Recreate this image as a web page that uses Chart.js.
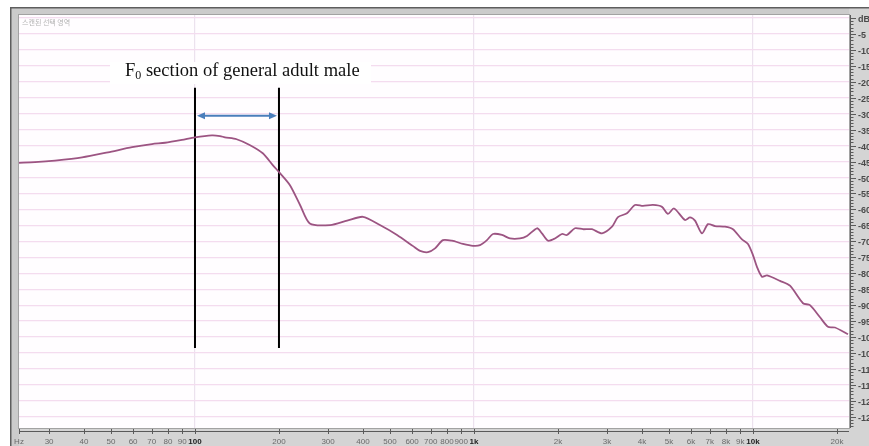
<!DOCTYPE html>
<html>
<head>
<meta charset="utf-8">
<script src="https://cdn.jsdelivr.net/npm/chart.js@4.4.1/dist/chart.umd.min.js"></script>
<style>
  html, body { margin: 0; padding: 0; background: #fff; overflow: hidden; }
  canvas { display: block; }
</style>
</head>
<body>
<canvas id="spectrum" width="869" height="446"></canvas>
<script>
// Frequency analysis of the selected region: level (dB) against frequency (Hz, log axis)
const freqHz = [
  23.4, 26.7, 31.5, 39.4, 48.8, 59.5, 70.1, 78.1, 89.8, 100,
  115, 123, 128, 141, 157, 175, 190, 202, 219, 238,
  258, 305, 351, 400, 460, 530, 605, 641, 684, 725,
  774, 834, 913, 992, 1051, 1113, 1170, 1260, 1346, 1462,
  1549, 1682, 1753, 1842, 1951, 2067, 2154, 2301, 2459, 2648,
  2876, 3124, 3282, 3535, 3776, 4034, 4381, 4719, 4958, 5212,
  5705, 5947, 6197, 6565, 6899, 7309, 7937, 8477, 9133, 9597,
  10000, 10335, 10772, 11228, 12502, 13572, 15111, 16006, 17390, 18571,
  19675, 21906
];
const levelDb = [
  -45.4, -45.2, -44.7, -43.7, -42.1, -40.5, -39.5, -39.1, -38.2, -37.4,
  -36.8, -37.0, -37.4, -38.0, -39.8, -42.4, -46.1, -48.7, -52.4, -58.6,
  -64.4, -64.9, -63.5, -62.3, -64.9, -68.0, -71.5, -73.0, -73.4, -72.2,
  -69.6, -69.8, -70.8, -71.4, -71.2, -69.6, -67.7, -68.0, -69.1, -69.1,
  -68.3, -65.9, -67.5, -69.8, -69.1, -67.7, -68.0, -65.9, -66.2, -66.2,
  -67.5, -65.4, -62.4, -61.2, -58.6, -58.9, -58.6, -59.2, -61.4, -59.7,
  -63.3, -62.5, -63.5, -67.5, -64.6, -65.2, -65.4, -66.2, -69.4, -70.8,
  -74.3, -78.0, -81.1, -80.7, -82.4, -83.9, -89.4, -90.0, -93.8, -96.8,
  -97.0, -99.1
];

// Axis ranges and tick labels
const freqRange = [23.4, 22090];
const dbRange = [-128.5, 0.94];
const xTickHz = [23.4, 30, 40, 50, 60, 70, 80, 90, 100, 200, 300, 400, 500, 600, 700, 800, 900,
                 1000, 2000, 3000, 4000, 5000, 6000, 7000, 8000, 9000, 10000, 20000];
const xTickText = ['Hz', '30', '40', '50', '60', '70', '80', '90', '100', '200', '300', '400', '500',
                   '600', '700', '800', '900', '1k', '2k', '3k', '4k', '5k', '6k', '7k', '8k', '9k', '10k', '20k'];
const xMajorHz = [100, 1000, 10000];
const yTickDb = [0, -5, -10, -15, -20, -25, -30, -35, -40, -45, -50, -55, -60, -65,
                 -70, -75, -80, -85, -90, -95, -100, -105, -110, -115, -120, -125];

// F0 band of an adult male voice
const f0BandHz = [100, 200];
const f0MarkerDb = [-21.9, -103.4];
const f0ArrowDb = -30.6;
const f0Caption = ['F', '0', ' section of general adult male'];
const panelTitle = '스캔된 선택 영역';

const curve = freqHz.map((f, i) => ({ x: f, y: levelDb[i] }));
const markerLine = f => f0MarkerDb.map(d => ({ x: f, y: d }));

const SANS = '"Liberation Sans", Arial, sans-serif';

const decor = {
  id: 'decor',
  beforeDraw(chart) {
    const { ctx, chartArea: a, width, height } = chart;
    ctx.save();
    ctx.fillStyle = '#ffffff';
    ctx.fillRect(0, 0, width, height);
    // window frame
    ctx.fillStyle = '#cbcbcb';
    ctx.fillRect(10, 7, width - 10, height - 7);
    ctx.fillStyle = '#d4d4d4';
    ctx.fillRect(a.left, a.bottom, width - a.left, height - a.bottom);
    ctx.fillRect(a.right, 7, width - a.right, height - 7);
    ctx.strokeStyle = '#5e5e5e';
    ctx.lineWidth = 1.5;
    ctx.beginPath();
    ctx.moveTo(10.75, height);
    ctx.lineTo(10.75, 7.75);
    ctx.lineTo(width, 7.75);
    ctx.stroke();
    // plot background
    ctx.fillStyle = '#fffdff';
    ctx.fillRect(a.left, a.top, a.right - a.left, a.bottom - a.top);
    ctx.strokeStyle = '#a2a2a2';
    ctx.lineWidth = 1;
    ctx.strokeRect(a.left - 0.5, a.top - 0.5, a.right - a.left + 1, a.bottom - a.top + 1);
    ctx.restore();
  },
  beforeDatasetsDraw(chart) {
    const { ctx, chartArea: a, scales: { x } } = chart;
    ctx.save();
    // panel title
    ctx.font = '7px "Noto Sans CJK KR", sans-serif';
    ctx.fillStyle = '#b4b4b4';
    ctx.textBaseline = 'alphabetic';
    ctx.fillText(panelTitle, a.left + 3, a.top + 10);
    // caption box
    const bx = x.getPixelForValue(f0BandHz[0]) - 85;
    const by = a.top + 47;
    ctx.fillStyle = '#ffffff';
    ctx.fillRect(bx, by, 261, 22);
    ctx.fillStyle = '#111111';
    const big = '18.5px "Liberation Serif", "Times New Roman", serif';
    const small = '12px "Liberation Serif", "Times New Roman", serif';
    let tx = bx + 15;
    const base = by + 14;
    ctx.font = big;
    ctx.fillText(f0Caption[0], tx, base);
    tx += ctx.measureText(f0Caption[0]).width;
    ctx.font = small;
    ctx.fillText(f0Caption[1], tx, base + 3);
    tx += ctx.measureText(f0Caption[1]).width;
    ctx.font = big;
    ctx.fillText(f0Caption[2], tx, base);
    ctx.restore();
  },
  afterDatasetsDraw(chart) {
    const { ctx, scales: { x, y } } = chart;
    const py = y.getPixelForValue(f0ArrowDb);
    const x1 = x.getPixelForValue(f0BandHz[0]) + 2;
    const x2 = x.getPixelForValue(f0BandHz[1]) - 2;
    ctx.save();
    ctx.strokeStyle = ctx.fillStyle = '#4a7ebb';
    ctx.lineWidth = 2;
    ctx.beginPath();
    ctx.moveTo(x1 + 5, py);
    ctx.lineTo(x2 - 5, py);
    ctx.stroke();
    ctx.beginPath();
    ctx.moveTo(x1, py); ctx.lineTo(x1 + 8, py - 3.5); ctx.lineTo(x1 + 8, py + 3.5); ctx.closePath();
    ctx.moveTo(x2, py); ctx.lineTo(x2 - 8, py - 3.5); ctx.lineTo(x2 - 8, py + 3.5); ctx.closePath();
    ctx.fill();
    ctx.restore();
  },
  afterDraw(chart) {
    const { ctx, chartArea: a, scales: { x, y } } = chart;
    ctx.save();
    ctx.strokeStyle = '#5a5a5a';
    ctx.lineWidth = 1;
    // frequency ruler
    ctx.beginPath();
    ctx.moveTo(a.left, a.bottom + 3.5);
    ctx.lineTo(a.right, a.bottom + 3.5);
    x.ticks.forEach(t => {
      const px = Math.round(x.getPixelForValue(t.value)) + 0.5;
      ctx.moveTo(px, a.bottom + 1);
      ctx.lineTo(px, a.bottom + 6);
    });
    ctx.stroke();
    // level ruler
    ctx.beginPath();
    ctx.moveTo(a.right + 1.5, a.top);
    ctx.lineTo(a.right + 1.5, a.bottom);
    for (let d = 0; d >= Math.ceil(dbRange[0]); d--) {
      const py = Math.round(y.getPixelForValue(d)) + 0.5;
      const len = d % 5 === 0 ? 6 : 3.5;
      ctx.moveTo(a.right + 1, py);
      ctx.lineTo(a.right + 1 + len, py);
    }
    ctx.stroke();
    ctx.restore();
  }
};

new Chart(document.getElementById('spectrum'), {
  type: 'line',
  data: {
    datasets: [
      {
        data: curve,
        borderColor: '#9c5482',
        borderWidth: 1.8,
        pointRadius: 0,
        tension: 0.25,
        fill: false
      },
      {
        data: markerLine(f0BandHz[0]),
        borderColor: '#000000',
        borderWidth: 2,
        pointRadius: 0
      },
      {
        data: markerLine(f0BandHz[1]),
        borderColor: '#000000',
        borderWidth: 2,
        pointRadius: 0
      }
    ]
  },
  options: {
    responsive: false,
    devicePixelRatio: 1,
    animation: false,
    events: [],
    layout: { padding: { left: 19, top: 15, right: 0, bottom: 0 } },
    plugins: { legend: { display: false }, tooltip: { enabled: false } },
    scales: {
      x: {
        type: 'logarithmic',
        position: 'bottom',
        min: freqRange[0],
        max: freqRange[1],
        afterBuildTicks: s => { s.ticks = xTickHz.map(v => ({ value: v })); },
        afterFit: s => { s.height = 18; },
        border: { display: false },
        grid: {
          drawTicks: false,
          color: c => (c.tick && xMajorHz.includes(c.tick.value)) ? '#ece2ee' : 'rgba(0,0,0,0)',
          lineWidth: 1.2
        },
        ticks: {
          autoSkip: false,
          maxRotation: 0,
          padding: 9,
          callback: (v, i) => xTickText[i],
          font: c => ({ family: SANS, size: 8, weight: (c.tick && xMajorHz.includes(c.tick.value)) ? 'bold' : 'normal' }),
          color: c => (c.tick && xMajorHz.includes(c.tick.value)) ? '#222222' : '#6a6a6a'
        }
      },
      y: {
        type: 'linear',
        position: 'right',
        min: dbRange[0],
        max: dbRange[1],
        afterBuildTicks: s => { s.ticks = yTickDb.map(v => ({ value: v })); },
        afterFit: s => { s.width = 20; },
        border: { display: false },
        grid: { drawTicks: false, color: '#f4dcef', lineWidth: 1.3 },
        ticks: {
          autoSkip: false,
          padding: 9,
          labelOffset: 1.5,
          callback: v => v === 0 ? 'dB' : String(v),
          font: { family: SANS, size: 9, weight: 'bold' },
          color: '#4a4a4a'
        }
      }
    }
  },
  plugins: [decor]
});
</script>
</body>
</html>
